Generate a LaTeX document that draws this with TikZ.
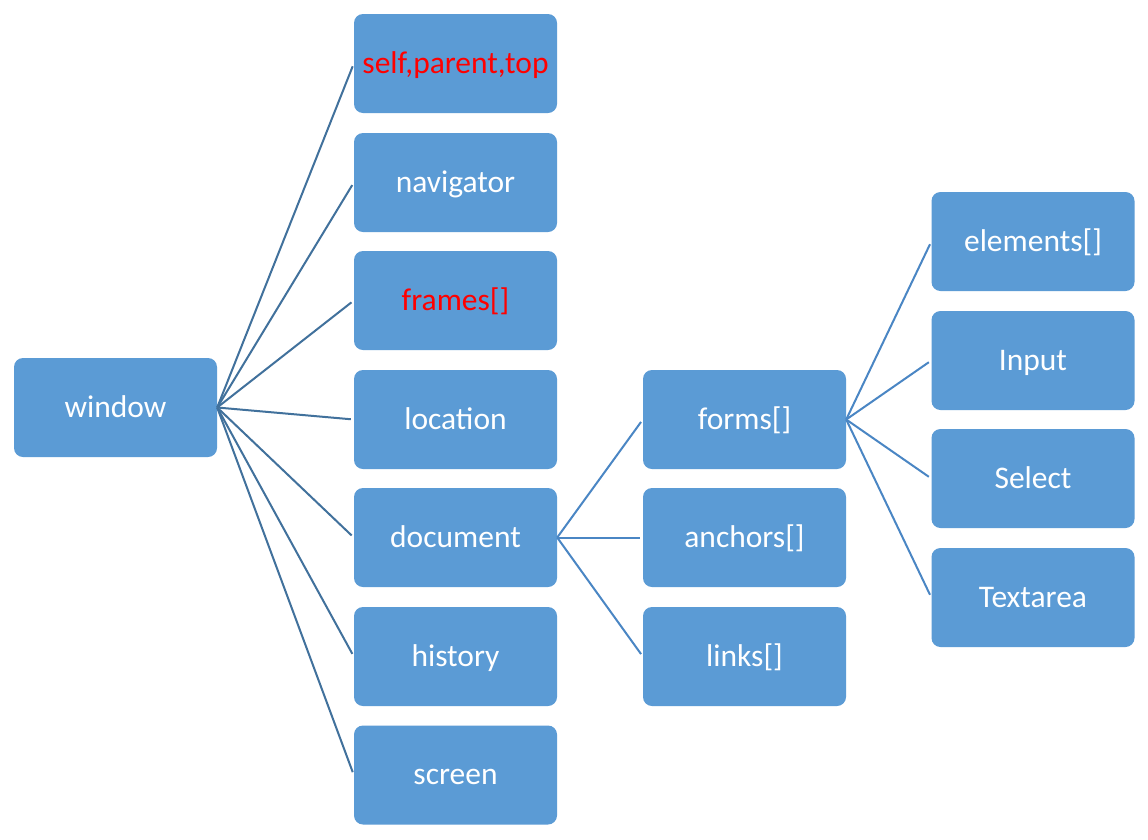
\documentclass[tikz,border=0pt]{standalone}
\usepackage{fontspec}
\setmainfont{Carlito}
\definecolor{boxfill}{HTML}{5B9BD5}
\definecolor{linea}{HTML}{41719C}
\definecolor{lineb}{HTML}{4A86C4}
\definecolor{redtxt}{HTML}{FF0000}
\begin{document}
\begin{tikzpicture}[x=1pt,y=-1pt,
  box/.style={draw=none,fill=boxfill,rounded corners=9pt,minimum width=203pt,minimum height=99pt,
    text=white,font=\fontsize{31.5}{36}\selectfont,inner sep=0pt,text height=25pt,text depth=6pt},
  redbox/.style={box,text=redtxt},
  linkA/.style={draw=linea,line width=2pt,shorten >=3pt},
  linkB/.style={draw=lineb,line width=2pt,shorten >=3pt}]
\path[use as bounding box,fill=white] (0,0) rectangle (1148,839);
\node[box] (window) at (115.5,407.5) {window};
\node[redbox] (spt) at (455.5,63.5) {self,parent,top};
\node[box] (nav) at (455.5,182.5) {navigator};
\node[redbox] (frames) at (455.5,300.5) {frames[]};
\node[box] (loc) at (455.5,419.5) {location};
\node[box] (doc) at (455.5,537.5) {document};
\node[box] (hist) at (455.5,656.5) {history};
\node[box] (scr) at (455.5,775) {screen};
\node[box] (forms) at (744.5,419.5) {forms[]};
\node[box] (anch) at (744.5,537.5) {anchors[]};
\node[box] (links) at (744.5,656.5) {links[]};
\node[box] (elem) at (1033,241.5) {elements[]};
\node[box] (inp) at (1033,360.5) {Input};
\node[box] (sel) at (1033,478.5) {Select};
\node[box] (txa) at (1033,597.5) {Textarea};
\foreach \t in {spt,nav,frames,loc,doc,hist,scr}
  \draw[linkA] (window.east) -- (\t.west);
\foreach \t in {forms,anch,links}
  \draw[linkB] (doc.east) -- (\t.west);
\foreach \t in {elem,inp,sel,txa}
  \draw[linkB] (forms.east) -- (\t.west);
\end{tikzpicture}
\end{document}
